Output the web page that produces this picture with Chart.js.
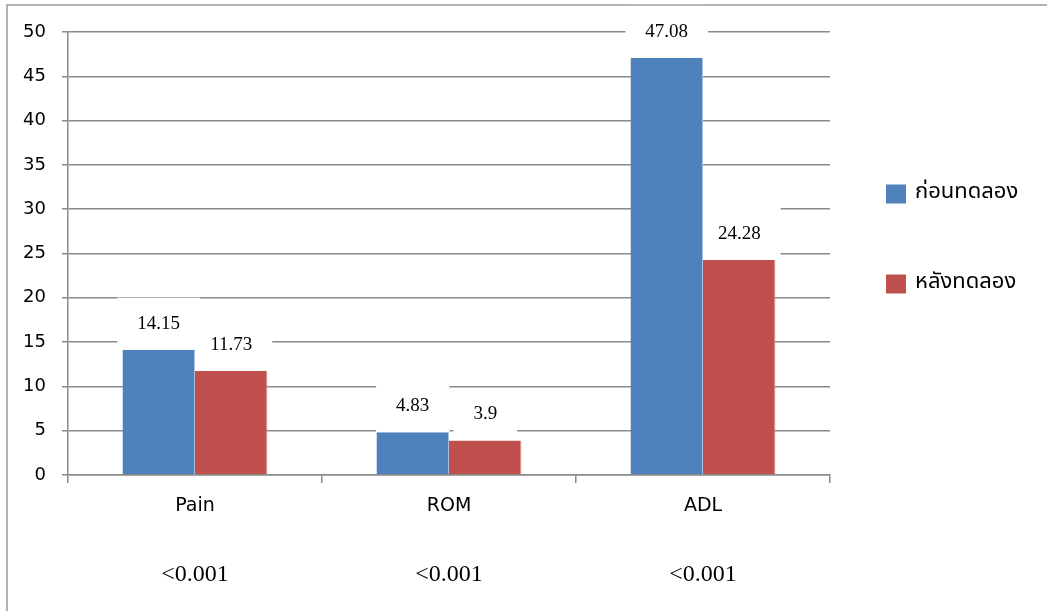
<!DOCTYPE html>
<html>
<head>
<meta charset="utf-8">
<script src="https://cdn.jsdelivr.net/npm/chart.js@4.4.1/dist/chart.umd.min.js"></script>
<style>
html,body{margin:0;padding:0;background:#fff;}
#wrap{position:relative;width:1047px;height:611px;}
</style>
</head>
<body>
<div id="wrap"><canvas id="c" width="1047" height="611"></canvas></div>
<script>
const categories = ['Pain', 'ROM', 'ADL'];
const seriesNames = ['ก่อนทดลอง', 'หลังทดลอง'];
const beforeValues = [14.15, 4.83, 47.08];
const afterValues = [11.73, 3.9, 24.28];
const pValues = ['<0.001', '<0.001', '<0.001'];
const yTicks = [0, 5, 10, 15, 20, 25, 30, 35, 40, 45, 50];

const BLUE = '#4F81BD';
const RED = '#C0504D';
const GRID = '#8a8a8a';
const SANS = '"DejaVu Sans", "Noto Sans", sans-serif';
const SERIF = '"Liberation Serif", "DejaVu Serif", serif';
const THAI = '"Noto Sans Thai", "Tahoma", "Loma", "Garuda", "DejaVu Sans", "Noto Sans", sans-serif';

const frame = {
  id: 'frame',
  beforeDraw(chart) {
    const ctx = chart.ctx;
    ctx.save();
    ctx.fillStyle = '#fff';
    ctx.fillRect(0, 0, chart.width, chart.height);
    ctx.strokeStyle = '#9a9a9a';
    ctx.lineWidth = 1.5;
    ctx.beginPath();
    ctx.moveTo(7, chart.height + 2);
    ctx.lineTo(7, 5);
    ctx.lineTo(chart.width + 2, 5);
    ctx.stroke();
    ctx.restore();
  }
};

function labelPos(bar) {
  return bar.y - 26;
}

const labels = {
  id: 'valueLabels',
  beforeDatasetsDraw(chart) {
    const ctx = chart.ctx;
    ctx.save();
    ctx.font = '19px ' + SERIF;
    chart.data.datasets.forEach((ds, di) => {
      const meta = chart.getDatasetMeta(di);
      meta.data.forEach((bar, i) => {
        const txt = String(ds.data[i]);
        const cy = labelPos(bar);
        const w = ctx.measureText(txt).width + 40;
        const h = 52;
        ctx.fillStyle = '#fff';
        ctx.fillRect(bar.x - w / 2, cy - h / 2, w, h);
      });
    });
    ctx.restore();
  },
  afterDatasetsDraw(chart) {
    const ctx = chart.ctx;
    ctx.save();
    ctx.font = '19px ' + SERIF;
    ctx.textAlign = 'center';
    ctx.textBaseline = 'middle';
    ctx.fillStyle = '#000';
    chart.data.datasets.forEach((ds, di) => {
      const meta = chart.getDatasetMeta(di);
      meta.data.forEach((bar, i) => {
        ctx.fillText(String(ds.data[i]), bar.x, labelPos(bar));
      });
    });
    ctx.restore();
  }
};

const pvals = {
  id: 'pvals',
  afterDraw(chart) {
    const ctx = chart.ctx;
    const xs = chart.scales.x;
    ctx.save();
    ctx.font = '24px ' + SERIF;
    ctx.fillStyle = '#000';
    ctx.textAlign = 'center';
    ctx.textBaseline = 'middle';
    pValues.forEach((p, i) => {
      ctx.fillText(p, xs.getPixelForValue(i), 575);
    });
    ctx.restore();
  }
};

const legend = {
  id: 'customLegend',
  afterDraw(chart) {
    const ctx = chart.ctx;
    ctx.save();
    ctx.font = '22px ' + THAI;
    ctx.textAlign = 'left';
    ctx.textBaseline = 'middle';
    chart.data.datasets.forEach((ds, i) => {
      const cy = 194 + i * 90;
      ctx.fillStyle = ds.backgroundColor;
      ctx.fillRect(886, cy - 9.5, 20, 19);
      ctx.fillStyle = '#000';
      ctx.fillText(ds.label, 915, cy);
    });
    ctx.restore();
  }
};

new Chart(document.getElementById('c'), {
  type: 'bar',
  data: {
    labels: categories,
    datasets: [
      { label: seriesNames[0], data: beforeValues, backgroundColor: BLUE, borderColor: '#a9bfdc', borderWidth: { right: 1 } },
      { label: seriesNames[1], data: afterValues, backgroundColor: RED, borderColor: '#e3b0ae', borderWidth: { left: 0, right: 1 } }
    ]
  },
  options: {
    responsive: false,
    animation: false,
    devicePixelRatio: 1,
    layout: { padding: { left: 0, right: 217, top: 32, bottom: 0 } },
    datasets: { bar: { categoryPercentage: 0.571, barPercentage: 1 } },
    plugins: { legend: { display: false }, tooltip: { enabled: false } },
    scales: {
      x: {
        offset: true,
        grid: { offset: true, drawOnChartArea: false, drawTicks: true, tickLength: 8, color: GRID, lineWidth: 1.5 },
        border: { display: true, color: GRID, width: 1.5 },
        ticks: { color: '#000', font: { family: SANS, size: 19 }, padding: 12 },
        afterFit(s) { s.height = 136; }
      },
      y: {
        min: 0, max: 50,
        afterBuildTicks(s) { s.ticks = yTicks.map(v => ({ value: v })); },
        grid: { color: GRID, lineWidth: 1.5, tickLength: 6, drawTicks: true },
        border: { display: true, color: GRID, width: 1.5 },
        ticks: { color: '#000', font: { family: SANS, size: 18 }, padding: 16 },
        afterFit(s) { s.width = 68; }
      }
    }
  },
  plugins: [frame, labels, pvals, legend]
});
</script>
</body>
</html>
